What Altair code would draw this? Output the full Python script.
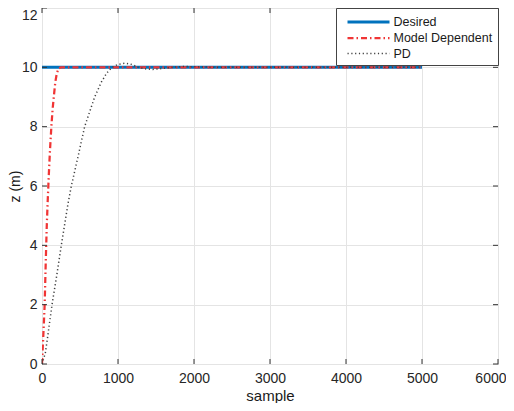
import altair as alt
import pandas as pd

series_names = ["Desired", "Model Dependent", "PD"]

desired_x = [0, 5000]
desired_y = [10, 10]

md_x = [0, 18, 35, 50, 62, 75, 90, 105, 123, 140, 155, 175, 195, 220, 250, 5000]
md_y = [0, 1, 2, 3.5, 4.6, 5.5, 6.4, 7.2, 8, 8.6, 9, 9.5, 9.8, 9.97, 10, 10]

pd_x = [0, 44, 79, 132, 195, 254, 342, 386, 475, 561, 693, 781, 850, 921, 1000,
        1096, 1180, 1263, 1350, 1460, 1580, 1700, 1850, 2000, 2300, 5000]
pd_y = [0, 0.37, 1, 2, 3, 4, 5.4, 6, 7, 8, 9, 9.5, 9.8, 10, 10.1,
        10.14, 10.1, 10, 9.95, 9.93, 9.96, 10, 10.03, 10.02, 10, 10]

x_ticks = [0, 1000, 2000, 3000, 4000, 5000, 6000]
y_ticks = [0, 2, 4, 6, 8, 10, 12]

rows = []
for name, xs, ys in [("Desired", desired_x, desired_y),
                     ("Model Dependent", md_x, md_y),
                     ("PD", pd_x, pd_y)]:
    for i, (a, b) in enumerate(zip(xs, ys)):
        rows.append({"series": name, "sample": a, "z": b, "order": i})
df = pd.DataFrame(rows)

xt = pd.DataFrame({"t": x_ticks})
yt = pd.DataFrame({"t": y_ticks})

FONT = "Liberation Sans"
W, H = 456, 356
xscale = alt.Scale(domain=[0, 6000], nice=False, zero=False)
yscale = alt.Scale(domain=[0, 12], nice=False, zero=False)

leg = alt.Legend(
    orient="top-right", offset=0,
    symbolType="M-2.8,0H2.8", symbolSize=225, symbolOffset=18.5,
    labelFont=FONT, labelFontSize=12.5, labelColor="#1a1a1a",
    padding=5, strokeColor="#444444", fillColor="white", rowPadding=0,
    labelOffset=16, cornerRadius=0,
)

lines = alt.Chart(df).mark_line(clip=True).encode(
    x=alt.X("sample:Q", scale=xscale,
            axis=alt.Axis(values=x_ticks, format="d", title="sample",
                          titleY=36, titleBaseline="alphabetic",
                          labelAlign={"condition": {"test": "datum.value == 6000", "value": "right"},
                                      "value": "center"},
                          labelOffset={"condition": {"test": "datum.value == 6000", "value": 8},
                                       "value": 0})),
    y=alt.Y("z:Q", scale=yscale,
            axis=alt.Axis(values=y_ticks, format="d", title="z (m)",
                          titleX=-23, titleBaseline="alphabetic",
                          labelBaseline={"condition": {"test": "datum.value == 12", "value": "top"},
                                         "value": "middle"})),
    color=alt.Color("series:N", title=None, legend=leg,
                    scale=alt.Scale(domain=series_names,
                                    range=["#0072BD", "#F03535", "#404040"])),
    strokeDash=alt.StrokeDash("series:N", title=None, legend=leg,
                              scale=alt.Scale(domain=series_names,
                                              range=[[1, 0], [6, 3, 1.5, 3], [1.2, 2.6]])),
    strokeWidth=alt.StrokeWidth("series:N", title=None, legend=leg,
                                scale=alt.Scale(domain=series_names,
                                                range=[3, 1.5, 1.2])),
    order="order:Q",
)

tick_color = "#333333"
xb = alt.Chart(xt).mark_rule(color=tick_color).encode(
    x=alt.X("t:Q", scale=xscale), y=alt.value(H), y2=alt.value(H - 5))
xtop = alt.Chart(xt).mark_rule(color=tick_color).encode(
    x=alt.X("t:Q", scale=xscale), y=alt.value(0), y2=alt.value(5))
yl = alt.Chart(yt).mark_rule(color=tick_color).encode(
    y=alt.Y("t:Q", scale=yscale), x=alt.value(0), x2=alt.value(5))
yr = alt.Chart(yt).mark_rule(color=tick_color).encode(
    y=alt.Y("t:Q", scale=yscale), x=alt.value(W), x2=alt.value(W - 5))

chart = alt.layer(lines, xb, xtop, yl, yr).properties(
    width=W, height=H,
    autosize=alt.AutoSizeParams(type="none"),
    padding={"left": 34, "top": 0, "right": 8, "bottom": 39},
).configure_view(
    stroke="#333333", strokeWidth=1
).configure_axis(
    labelFont=FONT, labelFontSize=14, labelColor="#262626",
    titleFont=FONT, titleFontSize=15, titleFontWeight="normal", titleColor="#1a1a1a",
    ticks=False, domain=False, grid=True, gridColor="#e4e4e4", gridWidth=1,
    labelPadding=7,
).configure_axisY(labelPadding=5, titleFontSize=14)

chart.save("out.html", embed_options={"renderer": "svg", "actions": False})
